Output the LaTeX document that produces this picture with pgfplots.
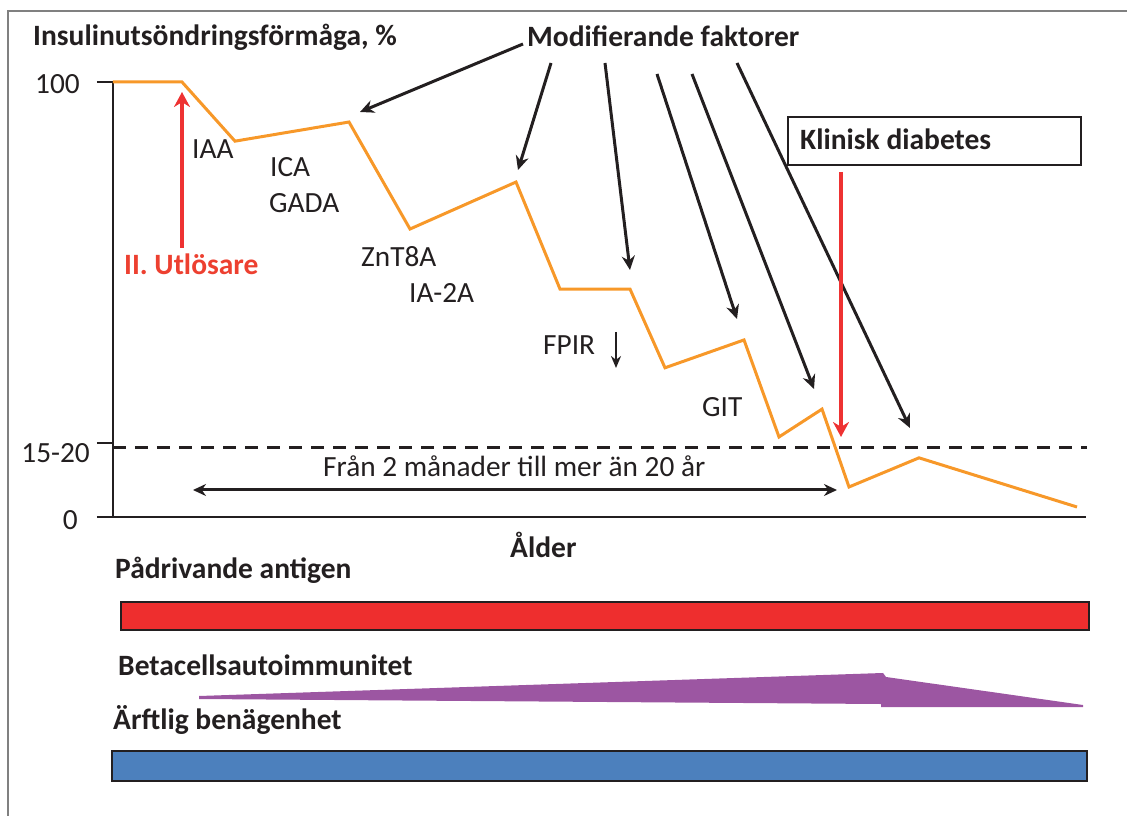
\documentclass[border=0pt]{standalone}
\usepackage{fontspec}
\setmainfont{Carlito}
\usepackage{pgfplots}
\pgfplotsset{compat=1.18}
\usetikzlibrary{arrows.meta}
\definecolor{orangeL}{RGB}{247,152,41}
\definecolor{redA}{RGB}{238,50,50}
\definecolor{redBar}{RGB}{238,46,46}
\definecolor{blueBar}{RGB}{76,128,189}
\definecolor{purp}{RGB}{156,86,162}
\definecolor{txt}{RGB}{35,31,32}
\definecolor{framec}{RGB}{128,128,128}
\definecolor{redT}{RGB}{237,64,48}
\newcommand{\reg}{\fontsize{29.3}{32}\selectfont}
\newcommand{\bld}{\fontsize{29.5}{32}\selectfont\bfseries}
\begin{document}
\begin{tikzpicture}
\begin{axis}[
  x=1pt, y=4.35pt,
  xmin=113, xmax=1086, ymin=0, ymax=100,
  enlargelimits=false,
  axis x line*=bottom, axis y line*=left,
  axis line style={line width=1.5pt, color=txt, -},
  every outer x axis line/.append style={-},
  every outer y axis line/.append style={-},
  xtick=\empty,
  ytick={0,17,100},
  yticklabels={},
  tick align=outside,
  major tick length=16pt,
  ytick style={line width=1.5pt, color=txt},
  clip=false,
]
% insulin secretion capacity (orange line)
\addplot[orangeL, line width=3pt] coordinates {
 (113,100) (182,100) (235,86.4) (349,90.8) (410,66.2) (516,77.0)
 (560,52.4) (630,52.4) (665,34.3) (744,40.7) (779,18.4) (822,24.8)
 (849,6.9) (919,13.6) (1077,2.3)};
% 15-20 threshold
\addplot[txt, line width=3pt, dash pattern=on 13pt off 9pt] coordinates {(113,15.9) (1087,15.9)};
% bars below the chart
\addplot[fill=redBar, draw=txt, line width=1.5pt] coordinates {(121,-19.5) (1089,-19.5) (1089,-26.0) (121,-26.0)} --cycle;
\addplot[fill=purp, draw=none] coordinates {(199,-41.15) (883,-35.86) (886,-36.78) (1083,-43.22) (1083,-43.68) (881,-43.68) (881,-42.99) (199,-41.84)} --cycle;
\addplot[fill=blueBar, draw=txt, line width=1.5pt] coordinates {(112,-53.8) (1087,-53.8) (1087,-60.7) (112,-60.7)} --cycle;
\coordinate (P0) at (axis cs:0,118.851);
\end{axis}
\begin{scope}[shift={(P0)}, x=1pt, y=-1pt]
 % frame
 \draw[framec, line width=1.5pt] (8,816) -- (8,11) -- (1127,11);
 % tick labels
 \node[anchor=base east, inner sep=0pt, text=txt] at (80,94) {\reg 100};
 \node[anchor=base east, inner sep=0pt, text=txt] at (90,463) {\reg 15-20};
 \node[anchor=base east, inner sep=0pt, text=txt] at (78,530) {\reg 0};
 % titles
 \node[anchor=base west, inner sep=0pt, text=txt] at (33,46) {\bld Insulinutsöndringsförmåga, \%};
 \node[anchor=base west, inner sep=0pt, text=txt] at (527,47) {\bld Modifierande faktorer};
 \draw[txt, line width=1.2pt] (788,117) rectangle (1081,165);
 \node[anchor=base west, inner sep=0pt, text=txt] at (800,150) {\bld Klinisk diabetes};
 \node[anchor=base west, inner sep=0pt, text=redT] at (124,275) {\bld II. Utlösare};
 % labels
 \node[anchor=base west, inner sep=0pt, text=txt] at (192,159) {\reg IAA};
 \node[anchor=base west, inner sep=0pt, text=txt] at (270,177) {\reg ICA};
 \node[anchor=base west, inner sep=0pt, text=txt] at (269,213) {\reg GADA};
 \node[anchor=base west, inner sep=0pt, text=txt] at (361,267) {\reg ZnT8A};
 \node[anchor=base west, inner sep=0pt, text=txt] at (409,303) {\reg IA-2A};
 \node[anchor=base west, inner sep=0pt, text=txt] at (543,355) {\reg FPIR};
 \node[anchor=base west, inner sep=0pt, text=txt] at (702,417) {\reg GIT};
 \node[anchor=base west, inner sep=0pt, text=txt] at (323,477) {\reg Från 2 månader till mer än 20 år};
 \node[anchor=base west, inner sep=0pt, text=txt] at (510,558) {\bld Ålder};
 \node[anchor=base west, inner sep=0pt, text=txt] at (115,579) {\bld Pådrivande antigen};
 \node[anchor=base west, inner sep=0pt, text=txt] at (118,675) {\bld Betacellsautoimmunitet};
 \node[anchor=base west, inner sep=0pt, text=txt] at (113,729) {\bld Ärftlig benägenhet};
 % arrows
 \begin{scope}[txt, line width=3pt, -{Stealth[length=14pt,width=13pt]}]
  \draw (523,44) -- (360,112);
  \draw (551,63) -- (518,170);
  \draw (605,63) -- (630,270);
  \draw (657,74) -- (737,319);
  \draw (692,74) -- (814,389);
  \draw (737,63) -- (910,428);
 \end{scope}
 \draw[txt, line width=2.5pt, -{Stealth[length=12pt,width=10pt]}] (616,332) -- (616,368);
 \draw[txt, line width=3pt, {Stealth[length=13pt,width=12pt]}-{Stealth[length=13pt,width=12pt]}] (193,490) -- (837,490);
 \draw[redA, line width=4pt, -{Stealth[length=15pt,width=16pt]}] (182,248) -- (182,92);
 \draw[redA, line width=4pt, -{Stealth[length=15pt,width=16pt]}] (841,172) -- (841,437);
\end{scope}
\pgfresetboundingbox
\begin{scope}[shift={(P0)}, x=1pt, y=-1pt]
 \useasboundingbox (0,0) rectangle (1127,816);
\end{scope}
\end{tikzpicture}
\end{document}
